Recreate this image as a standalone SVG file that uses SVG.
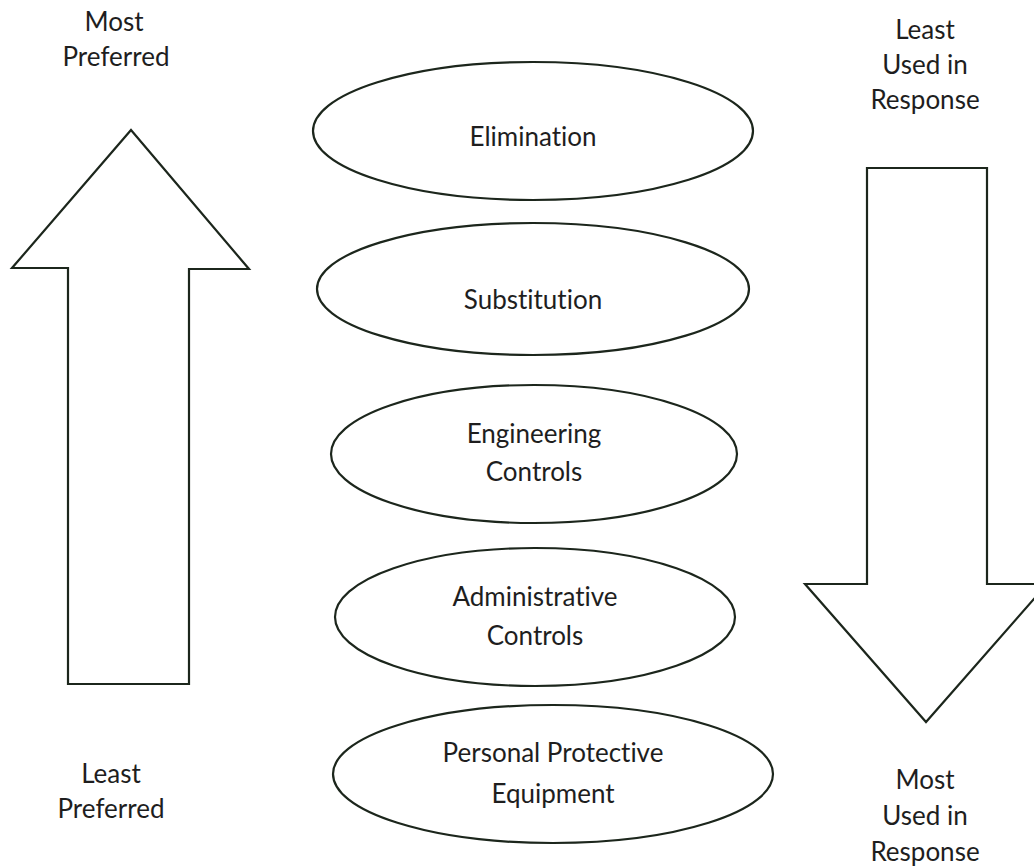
<svg xmlns="http://www.w3.org/2000/svg" width="1034" height="867" viewBox="0 0 1034 867">
<style>
.s{fill:#fff;stroke:#1c261c;stroke-width:2.2;stroke-linejoin:miter}
.t{font-family:Lato,"Open Sans","Liberation Sans",sans-serif;font-size:26px;fill:#1e1e1e;text-anchor:middle;font-variant-ligatures:none}
</style>
<rect width="1034" height="867" fill="#fff"/>
<g id="connectors">
<polygon id="up-arrow" class="s" points="131,130 249,269 189,269 189,684 68,684 68,268 12,268"/>
<polygon id="down-arrow" class="s" points="867,168 987,168 987,584 1047,584 926,722 805,584 867,584"/>
</g>
<g id="label-most-preferred"><text class="t" x="114" y="31">Most</text><text class="t" x="116" y="66">Preferred</text></g>
<g id="label-least-preferred"><text class="t" x="111" y="783">Least</text><text class="t" x="111" y="818">Preferred</text></g>
<g id="label-least-used"><text class="t" x="925" y="39">Least</text><text class="t" x="925" y="74">Used in</text><text class="t" x="925" y="109">Response</text></g>
<g id="label-most-used"><text class="t" x="925" y="789">Most</text><text class="t" x="925" y="825">Used in</text><text class="t" x="925" y="861">Response</text></g>
<g id="elimination"><ellipse class="s" cx="533" cy="131" rx="220" ry="69"/><text class="t" x="533" y="146">Elimination</text></g>
<g id="substitution"><ellipse class="s" cx="533" cy="289" rx="216" ry="66"/><text class="t" x="533" y="309">Substitution</text></g>
<g id="engineering"><ellipse class="s" cx="534" cy="454" rx="203" ry="69"/><text class="t" x="534" y="443">Engineering</text><text class="t" x="534" y="481">Controls</text></g>
<g id="administrative"><ellipse class="s" cx="535" cy="617" rx="200" ry="69"/><text class="t" x="535" y="606">Administrative</text><text class="t" x="535" y="645">Controls</text></g>
<g id="ppe"><ellipse class="s" cx="553" cy="774" rx="220" ry="69"/><text class="t" x="553" y="762">Personal Protective</text><text class="t" x="553" y="803">Equipment</text></g>
</svg>
